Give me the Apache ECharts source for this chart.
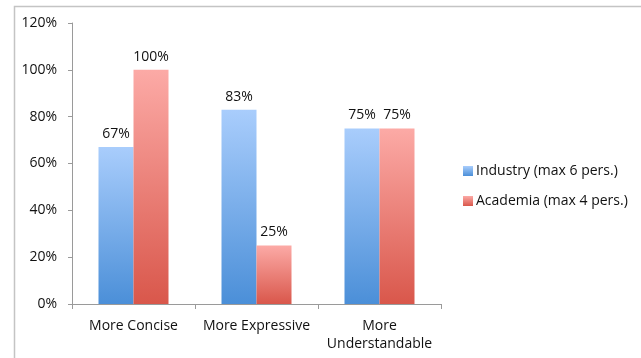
<!DOCTYPE html>
<html>
<head>
<meta charset="utf-8">
<script src="https://cdn.jsdelivr.net/npm/echarts@6/dist/echarts.min.js"></script>
<style>
html, body { margin: 0; padding: 0; background: #fff; }
#main { width: 641px; height: 358px; }
</style>
</head>
<body>
<div id="main"></div>
<script>
var categories = ['More Concise', 'More Expressive', 'More\nUnderstandable'];
var industry = [67, 83, 75];
var academia = [100, 25, 75];
var seriesNames = ['Industry (max 6 pers.)', 'Academia (max 4 pers.)'];

function grad(top, bottom) {
    return new echarts.graphic.LinearGradient(0, 0, 0, 1, [
        { offset: 0, color: top },
        { offset: 1, color: bottom }
    ]);
}

var myChart = echarts.init(document.getElementById('main'));
var font = '"Open Sans", "Liberation Sans", sans-serif';
var option = {
    animation: false,
    textStyle: { fontFamily: font },
    graphic: [{
        type: 'rect',
        shape: { x: 14.5, y: 6.5, width: 700, height: 400 },
        style: { fill: 'none', stroke: '#c4c4c4', lineWidth: 1.5 },
        silent: true
    }],
    grid: { left: 72, top: 23, right: 200, bottom: 54 },
    legend: {
        orient: 'vertical',
        left: 463,
        top: 164,
        padding: 0,
        itemWidth: 10,
        itemHeight: 10,
        itemGap: 16,
        icon: 'rect',
        textStyle: { fontSize: 14, color: '#111', fontFamily: font, padding: [0, 0, 0, -2] },
        data: seriesNames
    },
    xAxis: {
        type: 'category',
        data: categories,
        axisLine: { lineStyle: { color: '#9a9a9a' } },
        axisTick: { show: true, length: 5, lineStyle: { color: '#9a9a9a' } },
        axisLabel: { color: '#111', fontSize: 14, margin: 13, lineHeight: 18, interval: 0 }
    },
    yAxis: {
        type: 'value',
        min: 0,
        max: 120,
        interval: 20,
        splitLine: { show: false },
        axisLine: { show: true, lineStyle: { color: '#9a9a9a' } },
        axisTick: { show: true, length: 4, lineStyle: { color: '#9a9a9a' } },
        axisLabel: { formatter: '{value}%', color: '#111', fontSize: 14, margin: 15 }
    },
    series: [{
        name: seriesNames[0],
        type: 'bar',
        data: industry,
        barWidth: 35,
        barGap: '0%',
        itemStyle: { color: grad('#a9cdfc', '#4b8fd8') },
        label: { show: true, position: 'top', formatter: '{c}%', color: '#111', fontSize: 14, distance: 6 }
    }, {
        name: seriesNames[1],
        type: 'bar',
        data: academia,
        barWidth: 35,
        itemStyle: { color: grad('#fcaaa6', '#d9574b') },
        label: { show: true, position: 'top', formatter: '{c}%', color: '#111', fontSize: 14, distance: 6 }
    }]
};
myChart.setOption(option);
</script>
</body>
</html>
